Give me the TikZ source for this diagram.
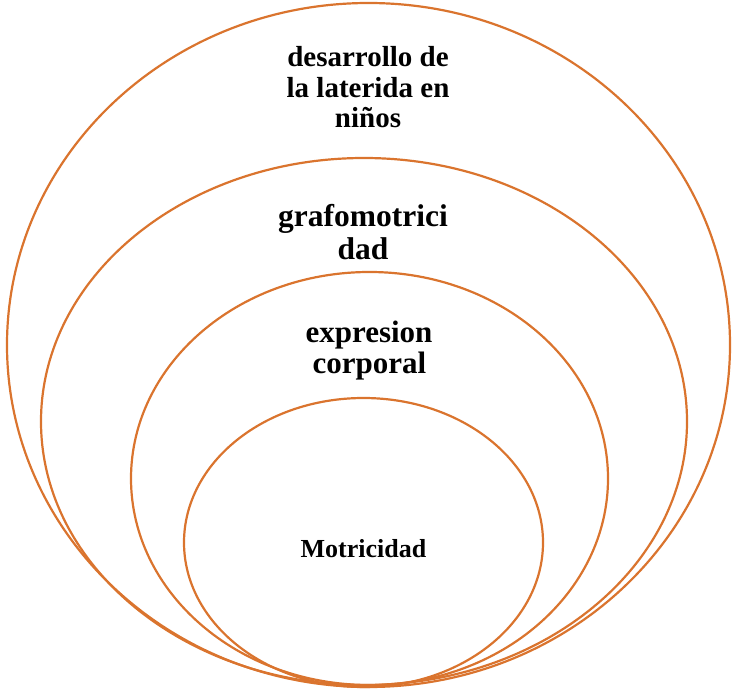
\documentclass[tikz,border=0pt]{standalone}
\usepackage{fontspec}
\setmainfont{Liberation Serif}
\definecolor{ringorange}{RGB}{218,116,46}
\begin{document}
\begin{tikzpicture}[x=1pt,y=-1pt,
  ring/.style={draw=ringorange,line width=2.2pt},
  lbl/.style={align=center,inner sep=0pt,font=\bfseries}]
\useasboundingbox (0,0) rectangle (733,692);
\draw[ring] (368.5,345) ellipse [x radius=361.5,y radius=342];
\draw[ring] (364,421.5) ellipse [x radius=323,y radius=263.5];
\draw[ring] (369.5,478.5) ellipse [x radius=238.5,y radius=206.5];
\draw[ring] (363.5,542.5) ellipse [x radius=179.5,y radius=144.5];
\node[lbl,anchor=base,font=\bfseries\fontsize{29}{30.5}\selectfont] (t1) at (368,67) {desarrollo de};
\node[lbl,anchor=base,font=\bfseries\fontsize{29}{30.5}\selectfont] (t1b) at (368,97.5) {la laterida en};
\node[lbl,anchor=base,font=\bfseries\fontsize{29}{30.5}\selectfont] (t1c) at (368,128) {niños};
\node[lbl,anchor=base,font=\bfseries\fontsize{31.5}{33}\selectfont] (t2) at (363,227) {grafomotrici};
\node[lbl,anchor=base,font=\bfseries\fontsize{31.5}{33}\selectfont] (t2b) at (363,260) {dad};
\node[lbl,anchor=base,font=\bfseries\fontsize{31}{31}\selectfont] (t3) at (369,342) {expresion};
\node[lbl,anchor=base,font=\bfseries\fontsize{31}{31}\selectfont] (t3b) at (369.5,373) {corporal};
\node[lbl,anchor=base,font=\bfseries\fontsize{26}{28}\selectfont] (t4) at (363.5,557) {Motricidad};
\end{tikzpicture}
\end{document}
